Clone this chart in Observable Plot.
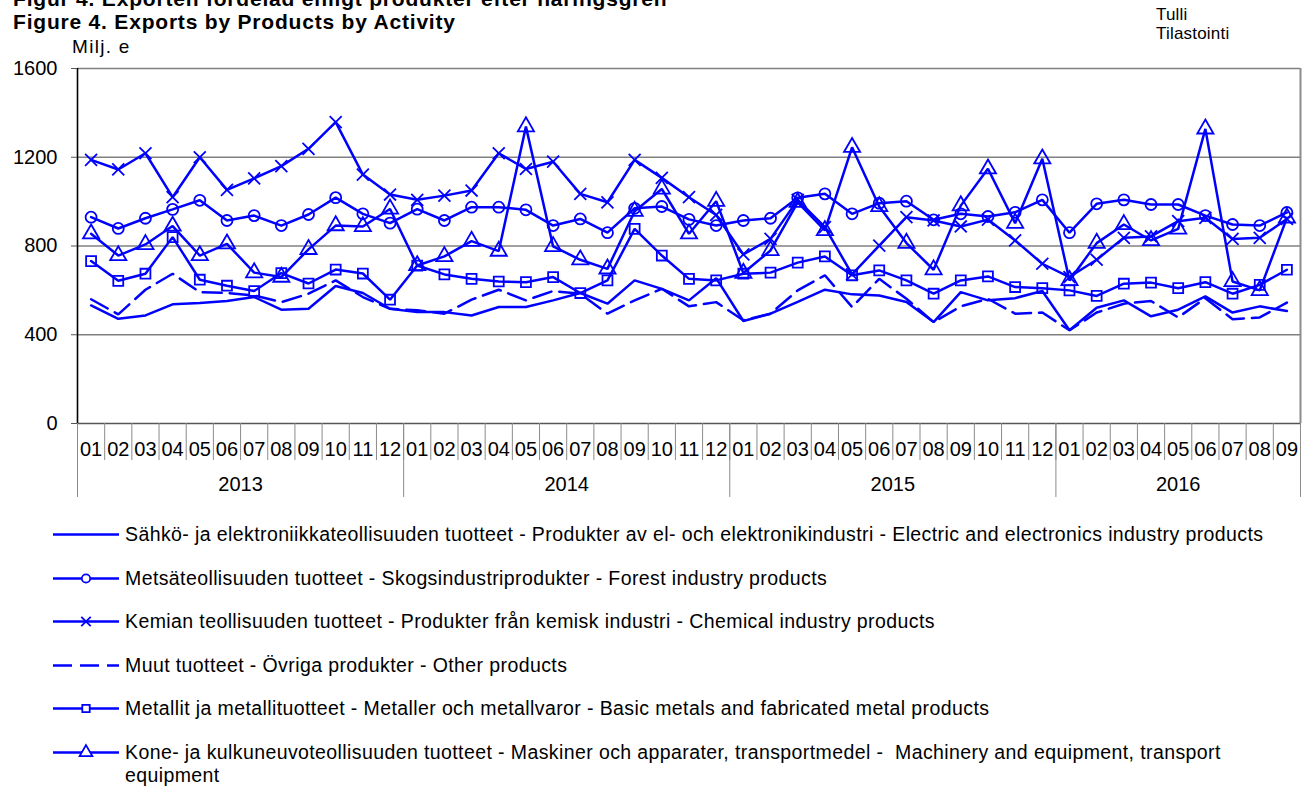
<!DOCTYPE html>
<html>
<head>
<meta charset="utf-8">
<script src="https://cdn.jsdelivr.net/npm/d3@7"></script>
<script src="https://cdn.jsdelivr.net/npm/@observablehq/plot@0.6"></script>
<style>
  body { margin: 0; background: #fff; font-family: Arial, "Liberation Sans", sans-serif; }
  #wrap { position: relative; width: 1309px; height: 789px; overflow: hidden; background: #fff; }
  .abs { position: absolute; white-space: nowrap; color: #000; }
  .title { font-weight: bold; font-size: 21px; line-height: 21px; letter-spacing: 0.8px; left: 13px; }
  #chart { position: absolute; left: 0; top: 0; }
  .leg { position: absolute; left: 53px; height: 23px; }
  .leg svg { position: absolute; left: 0; top: 1px; }
  .leg .txt { position: absolute; left: 72px; top: 0; font-size: 19.5px; line-height: 23px; letter-spacing: 0.4px; white-space: nowrap; }
</style>
</head>
<body>
<div id="wrap">
  <div class="abs title" style="top:-12px;">Figur 4. Exporten fördelad enligt produkter efter näringsgren</div>
  <div class="abs title" style="top:10.5px;">Figure 4. Exports by Products by Activity</div>
  <div class="abs" style="left:72px; top:37px; font-size:19px; line-height:19px; letter-spacing:1.3px;">Milj. e</div>
  <div class="abs" style="left:1156px; top:6px; font-size:17px; line-height:18.6px; letter-spacing:0.2px;">Tulli<br>Tilastointi</div>
  <div id="chart"></div>
  <div id="legend"></div>
</div>
<script>
// ---- data (Milj. e), monthly 2013-01 .. 2016-09 ----
const years = ["2013", "2014", "2015", "2016"];
const monthNames = ["01","02","03","04","05","06","07","08","09","10","11","12"];

const electric = [532,472,487,537,543,552,570,513,517,620,588,517,
                  502,502,487,525,525,555,588,540,645,607,555,655,
                  462,495,548,603,582,577,548,457,592,555,565,597,
                  420,522,555,483,513,573,500,528,507];
const forest   = [930,879,925,965,1006,915,937,892,942,1018,945,903,
                  966,915,975,975,963,892,922,860,970,978,920,892,
                  915,925,1017,1035,945,993,1002,918,945,933,952,1008,
                  860,990,1008,987,987,937,897,892,951];
const chemical = [1188,1145,1218,1020,1200,1053,1105,1160,1238,1358,1122,1032,
                  1008,1027,1050,1218,1147,1180,1035,997,1188,1107,1020,940,
                  762,832,1008,885,672,802,930,915,888,919,825,720,
                  660,738,837,843,912,927,832,837,922];
const other    = [560,492,603,675,592,588,577,547,585,645,570,517,
                  510,495,558,603,555,597,585,495,555,607,528,547,
                  465,495,600,668,525,652,562,457,528,562,495,500,
                  420,500,540,552,478,565,470,478,545];
const metals   = [732,643,675,840,648,621,597,678,631,694,676,558,
                  712,672,652,640,637,660,588,645,877,757,652,645,
                  675,680,725,753,668,690,645,585,645,663,615,610,
                  600,575,630,635,610,637,585,625,693];
const machinery= [855,757,807,890,757,810,680,660,785,892,888,967,
                  712,753,822,777,1338,798,738,697,957,1057,855,1002,
                  678,780,997,870,1245,978,813,693,982,1148,903,1193,
                  645,813,897,825,877,1328,640,600,927];

const seriesLabels = [
  "Sähkö- ja elektroniikkateollisuuden tuotteet - Produkter av el- och elektronikindustri - Electric and electronics industry products",
  "Metsäteollisuuden tuotteet - Skogsindustriprodukter - Forest industry products",
  "Kemian teollisuuden tuotteet - Produkter från kemisk industri - Chemical industry products",
  "Muut tuotteet - Övriga produkter - Other products",
  "Metallit ja metallituotteet - Metaller och metallvaror - Basic metals and fabricated metal products",
  "Kone- ja kulkuneuvoteollisuuden tuotteet - Maskiner och apparater, transportmedel -\u00a0 Machinery and equipment, transport equipment"
];
const yTicks = [0, 400, 800, 1200, 1600];

// ---- build ----
const BLUE = "#0000ff";
const seriesDefs = [
  {values: electric,  symbol: null,       dash: null},
  {values: forest,    symbol: "circle",   dash: null},
  {values: chemical,  symbol: "times",    dash: null},
  {values: other,     symbol: null,       dash: "19,8"},
  {values: metals,    symbol: "square",   dash: null},
  {values: machinery, symbol: "triangle", dash: null}
];
const n = electric.length;
const periods = years.flatMap(y => monthNames.map(m => ({year: y, month: m}))).slice(0, n);

const marks = [];
marks.push(Plot.ruleY(yTicks.filter(d => d > 0), {stroke: "#808080", strokeWidth: 1.5}));
marks.push(Plot.ruleX([n], {stroke: "#8c8c8c", strokeWidth: 2}));
seriesDefs.forEach((s, k) => {
  const rows = s.values.map((v, i) => ({x: i + 0.5, v}));
  marks.push(Plot.line(rows, {x: "x", y: "v", stroke: BLUE, strokeWidth: 2.5,
    strokeDasharray: s.dash || undefined, strokeLinejoin: "miter"}));
  if (s.symbol) {
    marks.push(Plot.dot(rows, {x: "x", y: "v", symbol: s.symbol,
      r: s.symbol === "square" ? 5.6 : s.symbol === "triangle" ? 6 : 5.5,
      stroke: BLUE, strokeWidth: 1.8, fill: "none"}));
  }
});
marks.push(Plot.ruleY([0], {stroke: "#555", strokeWidth: 1.6}));
marks.push(Plot.ruleX([0], {stroke: "#000", strokeWidth: 1.6}));
marks.push(Plot.axisY(yTicks, {tickSize: 6, tickPadding: 14, fontSize: 20, stroke: "#555", label: null,
  tickFormat: d => String(d)}));
marks.push(Plot.axisX(d3.range(0, n + 1), {tickSize: 37, tickFormat: () => "", stroke: "#8c8c8c", label: null}));
const yearBounds = years.map((y, k) => 12 * k).filter(d => d < n).concat([n]);
marks.push(Plot.axisX(yearBounds, {tickSize: 74, tickFormat: () => "", stroke: "#8c8c8c", label: null}));
marks.push(Plot.axisX(d3.range(n).map(i => i + 0.5), {tickSize: 0, tickPadding: 18, fontSize: 20,
  tickFormat: d => periods[Math.floor(d)].month, label: null}));
const yearCenters = years.map((y, k) => (12 * k + Math.min(12 * k + 12, n)) / 2);
marks.push(Plot.axisX(yearCenters, {tickSize: 0, tickPadding: 53, fontSize: 20,
  tickFormat: d => years[yearCenters.indexOf(d)], label: null}));

const chart = Plot.plot({
  width: 1309, height: 505,
  marginTop: 68, marginBottom: 82, marginLeft: 77, marginRight: 9,
  x: {type: "linear", domain: [0, n]},
  y: {type: "linear", domain: [0, 1600]},
  style: {fontFamily: 'Arial, "Liberation Sans", sans-serif', fontSize: "20px", color: "#000", background: "transparent", overflow: "visible"},
  marks
});
document.getElementById("chart").appendChild(chart);

// ---- legend ----
const legend = d3.select("#legend");
const rowCenters = [534, 578, 621, 665, 708, 752];
seriesDefs.forEach((s, k) => {
  const row = legend.append("div").attr("class", "leg").style("top", (rowCenters[k] - 11.5) + "px");
  const svg = row.append("svg").attr("width", 68).attr("height", 21);
  svg.append("line").attr("x1", 0).attr("x2", 66).attr("y1", 10.5).attr("y2", 10.5)
    .attr("stroke", BLUE).attr("stroke-width", 2.5).attr("stroke-dasharray", s.dash);
  if (s.symbol) {
    const symMap = {circle: d3.symbolCircle, times: d3.symbolTimes, square: d3.symbolSquare, triangle: d3.symbolTriangle};
    const size = s.symbol === "times" ? 60 : s.symbol === "triangle" ? 70 : 55;
    svg.append("path").attr("transform", "translate(33,10.5)")
      .attr("d", d3.symbol(symMap[s.symbol], size)())
      .attr("fill", s.symbol === "times" ? "none" : "#fff").attr("stroke", BLUE).attr("stroke-width", 1.8);
  }
  const label = seriesLabels[k];
  const txt = row.append("div").attr("class", "txt");
  const cut = label.indexOf(", transport equipment");
  if (cut >= 0) {
    txt.text(label.slice(0, cut + ", transport".length));
    txt.append("br");
    txt.append("span").text(label.slice(cut + ", transport ".length));
  } else {
    txt.text(label);
  }
});
</script>
</body>
</html>
